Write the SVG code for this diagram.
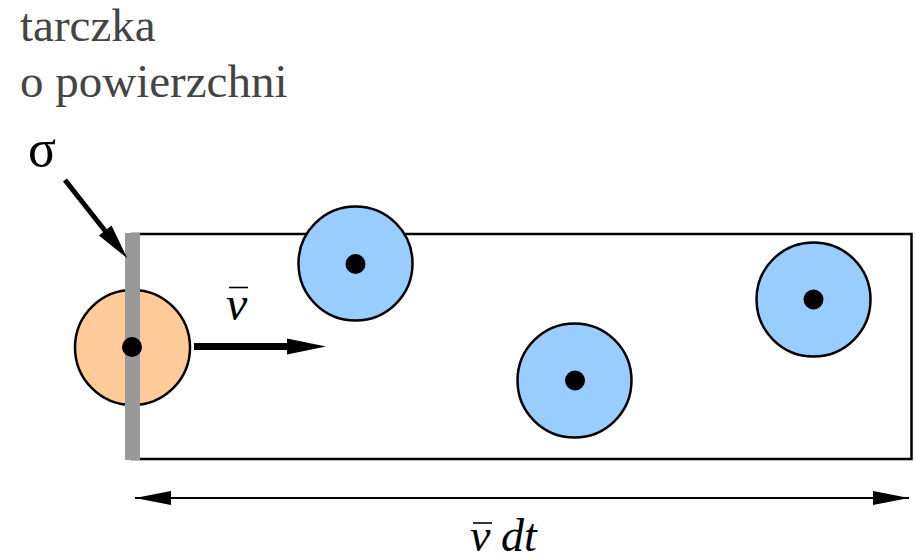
<svg xmlns="http://www.w3.org/2000/svg" width="916" height="560" viewBox="0 0 916 560">
<style>
.lbl{font-family:'Liberation Serif','Times New Roman',Tinos,serif;}
.math{font-family:'Liberation Serif','Times New Roman',Tinos,serif;font-style:italic;fill:#000;}
.mol{fill:#99ccff;stroke:#000;stroke-width:2.5;}
.dot{fill:#000;}
</style>
<defs>
<marker id="ah" viewBox="0 0 36 14" refX="36" refY="7" markerWidth="36" markerHeight="14" markerUnits="userSpaceOnUse" orient="auto-start-reverse">
<path d="M0,0 L36,7 L0,14 Z" fill="#000"/>
</marker>
</defs>
<rect width="916" height="560" fill="#fff"/>
<g id="title">
<text class="lbl" x="20" y="41" font-size="47" fill="#444">tarczka</text>
<text class="lbl" x="20" y="97" font-size="47" fill="#444">o powierzchni</text>
</g>
<g id="cylinder">
<rect x="132" y="234" width="779.5" height="225" fill="none" stroke="#000" stroke-width="2.5"/>
</g>
<g id="molecule-orange">
<circle cx="132.5" cy="347.5" r="57.5" fill="#ffcc99" stroke="#000" stroke-width="2.5"/>
</g>
<g id="disk">
<rect x="125" y="233" width="15" height="227" fill="#999"/>
</g>
<g id="molecule-orange-center">
<circle class="dot" cx="132" cy="347" r="10"/>
</g>
<g id="molecule-1">
<circle class="mol" cx="355.5" cy="263.5" r="57"/>
<circle class="dot" cx="355.5" cy="264" r="10"/>
</g>
<g id="molecule-2">
<circle class="mol" cx="574.5" cy="380.5" r="57"/>
<circle class="dot" cx="575" cy="380.5" r="10"/>
</g>
<g id="molecule-3">
<circle class="mol" cx="813.5" cy="299.5" r="57"/>
<circle class="dot" cx="813.5" cy="299.5" r="10"/>
</g>
<g id="connectors">
<line x1="194" y1="346.5" x2="290" y2="346.5" stroke="#000" stroke-width="7"/>
<polygon points="287,338.5 326,346.5 287,354.5" fill="#000"/>
<line x1="65" y1="180" x2="106" y2="232" stroke="#000" stroke-width="5"/>
<polygon points="98.9,235.6 111.5,225.6 127.3,258.3" fill="#000"/>
<line x1="135" y1="498" x2="909" y2="498" stroke="#000" stroke-width="2" marker-start="url(#ah)" marker-end="url(#ah)"/>
</g>
<g id="labels">
<text class="lbl" x="28" y="166" font-size="52" fill="#000">σ</text>
<text class="math" x="226" y="320" font-size="48">v</text>
<line x1="229" y1="287.5" x2="248" y2="287.5" stroke="#000" stroke-width="1.6"/>
<text class="math" x="470" y="551" font-size="46">v</text>
<line x1="473" y1="523" x2="492" y2="523" stroke="#000" stroke-width="1.6"/>
<text class="math" x="501" y="551" font-size="46">dt</text>
</g>
</svg>
